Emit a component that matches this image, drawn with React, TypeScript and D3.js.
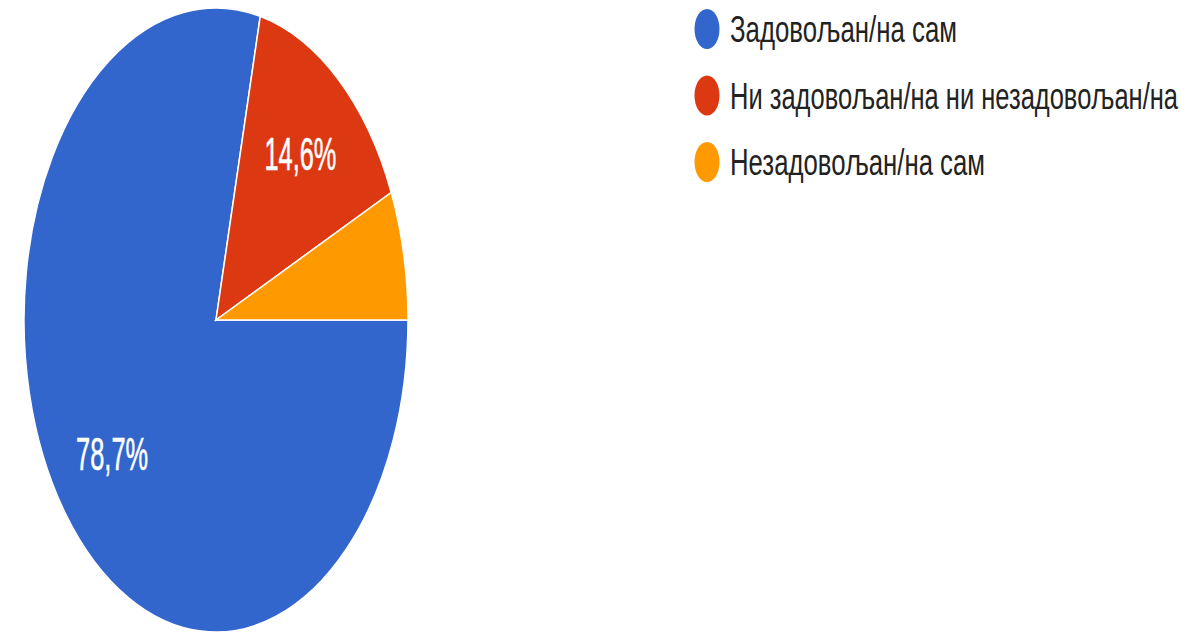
import React from "react";
import * as d3 from "d3";

const categories = [
  "Задовољан/на сам",
  "Ни задовољан/на ни незадовољан/на",
  "Незадовољан/на сам",
];
const values = [78.7, 14.6, 6.7];
const labels = ["78,7%", "14,6%", ""];
const colors = ["#3366cc", "#dc3912", "#ff9900"];
const legendWidths = [227, 448, 255];

export default function App() {
  const W = 1204;
  const H = 634;
  const cx = 216;
  const cy = 320;
  const R = 192;
  const sy = 312 / 192;
  const legendFont = 25;
  const legendScaleY = 37 / legendFont;

  const pie = d3
    .pie<number>()
    .sort(null)
    .startAngle(Math.PI / 2)
    .endAngle(Math.PI / 2 + 2 * Math.PI)
    .value((d) => d);
  const arcs = pie(values);
  const arc = d3.arc<d3.PieArcDatum<number>>().innerRadius(0).outerRadius(R);
  const labelArc = d3
    .arc<d3.PieArcDatum<number>>()
    .innerRadius(R * 0.69)
    .outerRadius(R * 0.69);

  const legendY = d3
    .scalePoint<number>()
    .domain(categories.map((_, i) => i))
    .range([29, 162]);

  return (
    <svg
      width={W}
      height={H}
      style={{ position: "absolute", left: 0, top: 0, display: "block" }}
      fontFamily="'Liberation Sans', Arial, sans-serif"
    >
      <rect width={W} height={H} fill="#ffffff" />
      <g transform={`translate(${cx},${cy}) scale(1,${sy})`}>
        {arcs.map((a, i) => (
          <path
            key={i}
            d={arc(a) || ""}
            fill={colors[i]}
            stroke="#ffffff"
            strokeWidth={1.5}
            vectorEffect="non-scaling-stroke"
          />
        ))}
      </g>
      {arcs.map((a, i) => {
        if (!labels[i]) return null;
        const [lx, ly] = labelArc.centroid(a);
        const x = cx + lx;
        const y = cy + ly * sy;
        return (
          <text
            key={i}
            x={x - 36}
            y={y + 16}
            fontSize={46}
            fill="#ffffff"
            stroke="#ffffff"
            strokeWidth={0.6}
            textLength={72}
            lengthAdjust="spacingAndGlyphs"
          >
            {labels[i]}
          </text>
        );
      })}
      {categories.map((c, i) => {
        const y = legendY(i) as number;
        return (
          <g key={c}>
            <ellipse cx={707} cy={y} rx={12.5} ry={20} fill={colors[i]} />
            <g transform={`translate(730,${y + 13}) scale(1,${legendScaleY})`}>
              <text
                x={0}
                y={0}
                fontSize={legendFont}
                fill="#222222"
                textLength={legendWidths[i]}
                lengthAdjust="spacingAndGlyphs"
              >
                {c}
              </text>
            </g>
          </g>
        );
      })}
    </svg>
  );
}
